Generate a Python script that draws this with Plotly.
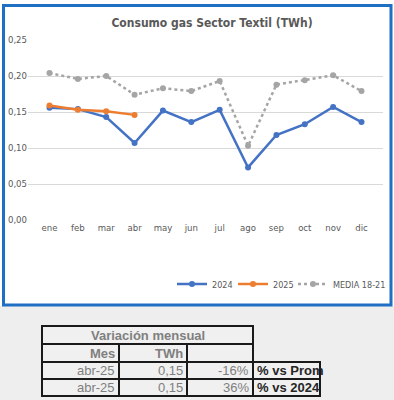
import plotly.graph_objects as go

# ---------------- data ----------------
months = ["ene", "feb", "mar", "abr", "may", "jun", "jul", "ago", "sep", "oct", "nov", "dic"]
s2024 = [0.156, 0.154, 0.143, 0.107, 0.152, 0.136, 0.153, 0.073, 0.118, 0.133, 0.157, 0.136]
s2025 = [0.159, 0.153, 0.151, 0.146]
media = [0.204, 0.196, 0.200, 0.174, 0.183, 0.179, 0.193, 0.103, 0.188, 0.194, 0.201, 0.179]
y_ticks = [0.00, 0.05, 0.10, 0.15, 0.20, 0.25]

table_title = "Variación mensual"
table_head = ["Mes", "TWh", ""]
tbl_mes = ["abr-25", "abr-25"]
tbl_twh = ["0,15", "0,15"]
tbl_pct = ["-16%", "36%"]
tbl_lbl = ["% vs Prom", "% vs 2024"]

# ---------------- geometry helpers ----------------
L, R, T, B = 28, 383, 40, 220
W, H = R - L, B - T
def px(x):
    return (x - L) / W
def py(y):
    return (B - y) / H

COND = "DejaVu Sans Condensed, Liberation Sans Narrow, Roboto, sans-serif"
ARIAL = "Liberation Sans, Arial, sans-serif"

fig = go.Figure()
fig.add_trace(go.Scatter(x=months, y=s2024, name="2024", mode="lines+markers", legend="legend",
                         line=dict(color="#4472c4", width=2.5), marker=dict(size=6, color="#4472c4")))
fig.add_trace(go.Scatter(x=months[:len(s2025)], y=s2025, name="2025", mode="lines+markers", legend="legend2",
                         line=dict(color="#ed7d31", width=2.5), marker=dict(size=6, color="#ed7d31")))
fig.add_trace(go.Scatter(x=months, y=media, name="MEDIA 18-21", mode="lines+markers", legend="legend3",
                         line=dict(color="#a5a5a5", width=2.5, dash="dot"), marker=dict(size=6, color="#a5a5a5")))

shapes = []
# grey lower band
shapes.append(dict(type="rect", xref="paper", yref="paper", layer="below",
                   x0=px(0), x1=px(394), y0=py(400), y1=py(306),
                   line=dict(width=0), fillcolor="#eeeeee"))
# blue frame
shapes.append(dict(type="rect", xref="paper", yref="paper", layer="below",
                   x0=px(3.5), x1=px(391), y0=py(305), y1=py(5.5),
                   line=dict(color="#1f6fc4", width=3), fillcolor="white"))

cols = [42, 119, 187, 253, 320]
rows = [326, 344, 362, 379, 396]
def cell(x0, x1, y0, y1):
    shapes.append(dict(type="rect", xref="paper", yref="paper",
                       x0=px(x0), x1=px(x1), y0=py(y1), y1=py(y0),
                       line=dict(color="#1a1a1a", width=2), fillcolor="#f0f0f0"))
cell(cols[0], cols[3], rows[0], rows[1])
for c in range(3):
    cell(cols[c], cols[c + 1], rows[1], rows[2])
for r in range(2):
    for c in range(4):
        cell(cols[c], cols[c + 1], rows[2 + r], rows[3 + r])

ann = []
def text(x, y, s, anchor="right", bold=False, color="#7f7f7f", size=13):
    ann.append(dict(xref="paper", yref="paper", x=px(x), y=py(y), text=("<b>%s</b>" % s) if bold else s,
                    showarrow=False, xanchor=anchor, yanchor="middle",
                    font=dict(family=ARIAL, size=size, color=color)))

text((cols[0] + cols[3]) / 2, (rows[0] + rows[1]) / 2, table_title, anchor="center", bold=True)
for c, h in enumerate(table_head):
    if h:
        text(cols[c + 1] - 2, (rows[1] + rows[2]) / 2, h, bold=True)
for r in range(2):
    yc = (rows[2 + r] + rows[3 + r]) / 2
    text(cols[1] - 2, yc, tbl_mes[r])
    text(cols[2] - 2, yc, tbl_twh[r])
    text(cols[3] - 2, yc, tbl_pct[r])
    text(cols[3] + 2, yc, tbl_lbl[r], anchor="left", bold=True, color="#262626")

def leg(xpx):
    return dict(orientation="h", x=px(xpx), y=py(284), xanchor="left", yanchor="middle",
                bgcolor="rgba(0,0,0,0)", font=dict(family=COND, size=9, color="#595959"),
                itemwidth=30, tracegroupgap=0)

fig.update_layout(
    width=394, height=400,
    margin=dict(l=L, r=394 - R, t=T, b=400 - B, autoexpand=False),
    paper_bgcolor="white", plot_bgcolor="rgba(0,0,0,0)",
    separators=",.",
    title=dict(text="<b>Consumo gas Sector Textil (TWh)</b>", x=212 / 394, xanchor="center",
               y=1 - 23 / 400, yanchor="middle", automargin=False,
               font=dict(family=COND, size=12, color="#595959")),
    xaxis=dict(type="category", showgrid=False, showline=False, zeroline=False, ticks="",
               automargin=False,
               tickfont=dict(family=COND, size=9.5, color="#595959")),
    yaxis=dict(range=[0, 0.25], tickvals=y_ticks, tickformat=".2f", showgrid=True,
               automargin=False,
               gridcolor="#d9d9d9", gridwidth=1, zeroline=False, showline=False, ticks="",
               tickfont=dict(family=COND, size=9.5, color="#595959")),
    showlegend=True,
    legend=leg(172), legend2=leg(233), legend3=leg(293),
    shapes=shapes, annotations=ann,
)

fig.write_html("out.html", config={"displayModeBar": False},
               post_script="document.body.style.margin='0px';")
